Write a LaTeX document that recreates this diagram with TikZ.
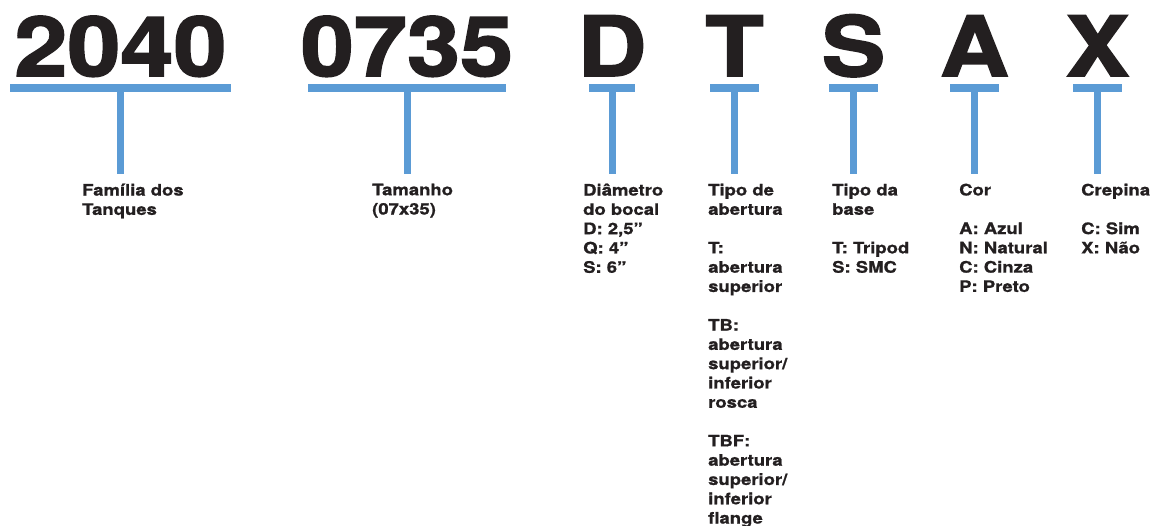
\documentclass[tikz,border=0pt]{standalone}
\usepackage{fontspec}
\newfontfamily\codefont{TeX Gyre Heros}[FakeStretch=1.15, BoldFeatures={FakeBold=2}]
\newfontfamily\descfont{TeX Gyre Heros}[FakeStretch=1.17, BoldFeatures={FakeBold=1}]

\begin{document}
\begin{tikzpicture}[x=1pt, y=-1pt]

	\def\bary{88}
	\def\stemy{174}
	\def\codey{76}
	\def\descy{183.5}
	\def\gap{19.3pt}

	% Colours
	\definecolor{tagblue}{HTML}{5B9BD5}
	\definecolor{inkblack}{HTML}{231F20}

	% Styles
	\tikzset{
		code/.style={anchor=base, inner sep=0pt, text=inkblack,
			font=\codefont\bfseries\fontsize{83}{83}\selectfont},
		desc/.style={anchor=north west, align=left, inner sep=0pt, text=inkblack,
			font=\descfont\bfseries\fontsize{15.8}{19.3}\selectfont,
			execute at begin node=\strut},
		barline/.style={draw=tagblue, line width=8pt},
		stemline/.style={draw=tagblue, line width=7pt}
	}

	\useasboundingbox (0,0) rectangle (1152,526);

	% Codes with their bars and stems
	\foreach \i/\x/\hw/\txt in {1/120.5/110.5/2040, 2/407/99/0735, 3/612/23/D,
			4/734.5/24.5/T, 5/853.5/24.5/S, 6/974.5/24.5/A, 7/1097.5/24.5/X} {
		\node[code] (c\i) at (\x, \codey) {\txt};
		\coordinate (b\i) at (\x, \bary);
		\coordinate (s\i) at (\x, \stemy);
		\draw[barline] ([xshift=-\hw pt]b\i) -- ([xshift=\hw pt]b\i);
		\draw[stemline] (b\i) -- (s\i);
	}

	% Descriptions
	\node[desc] (d1) at (82, \descy) {Família dos\\Tanques};
	\node[desc] (d2) at (372, \descy) {Tamanho\\(07x35)};
	\node[desc] (d3) at (583, \descy) {Diâmetro\\do bocal\\D: 2,5”\\Q: 4”\\S: 6”};
	\node[desc] (d4) at (708, \descy) {Tipo de\\abertura\\[\gap]T:\\abertura\\superior\\[\gap]TB:\\abertura\\superior/\\inferior\\rosca\\[\gap]TBF:\\abertura\\superior/\\inferior\\flange};
	\node[desc] (d5) at (832, \descy) {Tipo da\\base\\[\gap]T: Tripod\\S: SMC};
	\node[desc] (d6) at (959, \descy) {Cor\\[\gap]A: Azul\\N: Natural\\C: Cinza\\P: Preto};
	\node[desc] (d7) at (1081, \descy) {Crepina\\[\gap]C: Sim\\X: Não};

\end{tikzpicture}
\end{document}
